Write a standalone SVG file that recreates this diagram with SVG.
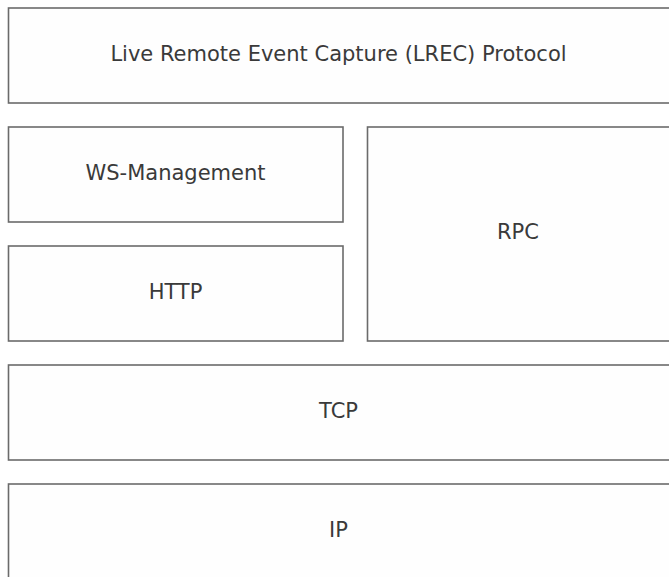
<svg xmlns="http://www.w3.org/2000/svg" width="669" height="577" viewBox="0 0 669 577">
<style>
.box{fill:#fefefe;stroke:#6b6b6b;stroke-width:1.6}
.lbl{font-family:"DejaVu Sans","Verdana",sans-serif;font-size:21px;fill:#3a3a3a;text-anchor:middle}
</style>
<rect width="669" height="577" fill="#ffffff"/>
<g id="lrec"><rect class="box" x="8.5" y="8" width="665" height="95"/><text class="lbl" x="338.5" y="61">Live Remote Event Capture (LREC) Protocol</text></g>
<g id="wsman"><rect class="box" x="8.5" y="127" width="334.5" height="95"/><text class="lbl" x="175.5" y="180">WS-Management</text></g>
<g id="http"><rect class="box" x="8.5" y="246" width="334.5" height="95"/><text class="lbl" x="175.5" y="299">HTTP</text></g>
<g id="rpc"><rect class="box" x="367.5" y="127" width="306" height="214"/><text class="lbl" x="518" y="239">RPC</text></g>
<g id="tcp"><rect class="box" x="8.5" y="365" width="665" height="95"/><text class="lbl" x="338.5" y="418">TCP</text></g>
<g id="ip"><rect class="box" x="8.5" y="484" width="665" height="100"/><text class="lbl" x="338.5" y="537">IP</text></g>
<g id="connectors"></g>
</svg>
